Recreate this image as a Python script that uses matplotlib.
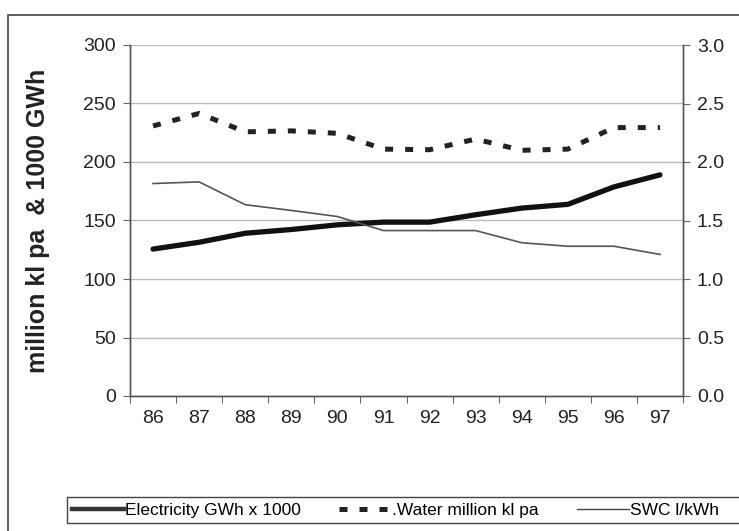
import matplotlib
matplotlib.use("Agg")
import matplotlib.pyplot as plt
from matplotlib.patches import Rectangle
from matplotlib.lines import Line2D

plt.rcParams['font.family'] = ['Liberation Sans', 'DejaVu Sans']

# --- data ---
years = ["86", "87", "88", "89", "90", "91", "92", "93", "94", "95", "96", "97"]
electricity = [125.6, 131.4, 139.1, 142.3, 146.3, 148.6, 148.6, 154.9, 160.6, 163.8, 178.7, 189.0]
water = [230.8, 241.5, 225.8, 226.6, 224.5, 211.0, 210.5, 219.6, 210.0, 211.0, 229.4, 229.4]
swc = [1.816, 1.83, 1.635, 1.586, 1.534, 1.414, 1.414, 1.414, 1.31, 1.28, 1.28, 1.21]

W, H = 739, 531
fig = plt.figure(figsize=(W / 100, H / 100), dpi=100)
ax = fig.add_axes([130 / W, 1 - 396 / H, (683 - 130) / W, (396 - 45) / H])
ax2 = ax.twinx()

x = list(range(len(years)))
water_dash = (0, (1.6, 2.4))

ax.plot(x, water, color="#222222", lw=3.6, linestyle=water_dash,
        dash_capstyle="butt", zorder=3)
ax.plot(x, electricity, color="#111111", lw=3.8, solid_capstyle="round", zorder=4)
ax2.plot(x, swc, color="#555555", lw=1.2, zorder=3)

ax.set_xlim(-0.5, len(years) - 0.5)
ax.set_ylim(0, 300)
ax.set_yticks(range(0, 301, 50))
ax2.set_ylim(0, 3.0)
r_ticks = [0.0, 0.5, 1.0, 1.5, 2.0, 2.5, 3.0]
ax2.set_yticks(r_ticks)
ax2.set_yticklabels([f"{v:.1f}" for v in r_ticks])

ax.set_xticks(x)
ax.set_xticklabels(years)
ax.set_xticks([i - 0.5 for i in range(len(years) + 1)], minor=True)
ax.tick_params(axis="x", which="major", length=0, pad=10, labelsize=14, colors="#222222")
ax.tick_params(axis="x", which="minor", length=5, color="#444444", direction="out")
ax.tick_params(axis="y", length=5, color="#666666", labelsize=14, colors="#222222", pad=5)
ax2.tick_params(axis="y", length=5, color="#666666", labelsize=14, colors="#222222", pad=5)

ax.grid(axis="y", color="#bbbbbb", lw=1.0)
ax.set_axisbelow(True)
for a in (ax, ax2):
    a.spines["top"].set_visible(False)
    for s in ("left", "right", "bottom"):
        a.spines[s].set_color("#555555")
        a.spines[s].set_linewidth(1.0)

ax.set_ylabel("million kl pa  & 1000 GWh", fontsize=18, fontweight="bold", labelpad=24,
              color="#222222")

# outer chart frame
fig.patches.append(Rectangle((8 / W, -0.1), 1.2, 0.1 + (H - 15) / H, transform=fig.transFigure,
                             fill=False, edgecolor="#444444", lw=1.2))
# legend frame
fig.patches.append(Rectangle((67 / W, 1 - 523 / H), 1.0, 26 / H, transform=fig.transFigure,
                             fill=False, edgecolor="#444444", lw=1.0))

handles = [
    Line2D([], [], color="#333333", lw=3.2),
    Line2D([], [], color="#222222", lw=3.6, linestyle=water_dash),
    Line2D([], [], color="#444444", lw=1.0),
]
labels = ["Electricity GWh x 1000", ".Water million kl pa", "SWC l/kWh"]
leg = fig.legend(handles, labels, loc="center left", ncol=3,
                 bbox_to_anchor=(72 / W, 1 - 510 / H), frameon=False,
                 fontsize=12.5, handlelength=3.0, handletextpad=0.05, borderaxespad=0,
                 borderpad=0, columnspacing=2.2)

fig.savefig("out.png", dpi=100)
